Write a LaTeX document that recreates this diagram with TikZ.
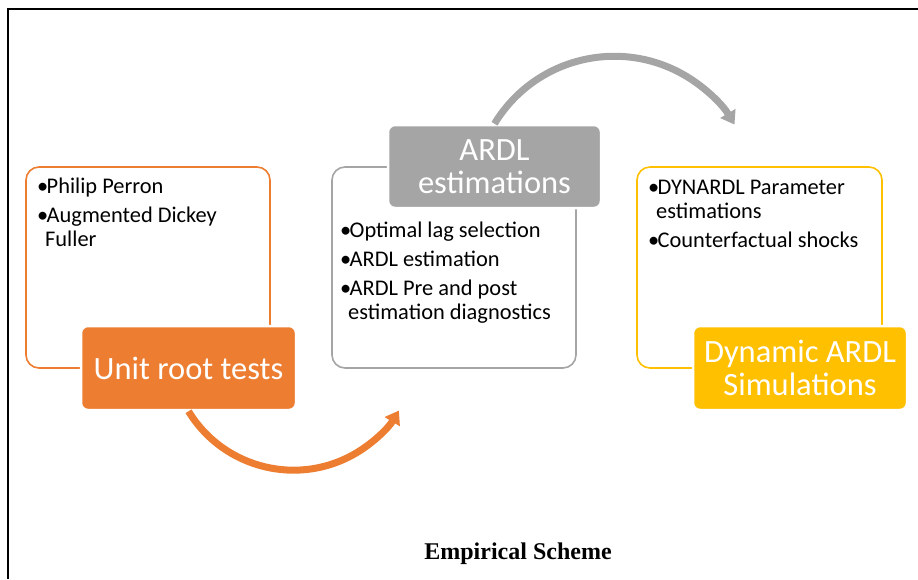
\documentclass[tikz,border=0pt]{standalone}
\usepackage{fontspec}
\setmainfont{Carlito}
\newfontfamily\captionfont{Liberation Serif}
\usetikzlibrary{arrows.meta}

\definecolor{accorange}{HTML}{ED7D31}
\definecolor{accgray}{HTML}{A5A5A5}
\definecolor{accgold}{HTML}{FFC000}

% one bullet line with hanging indent, 5pt between items
\newcommand{\bitem}[1]{\ifvmode\else\par\vskip5pt\fi
    \hangindent=8pt\hangafter=1\noindent\makebox[9.5pt][l]{\textbullet}#1}
% ragged box holding the bullet lines, first baseline on top
\newcommand{\itemlist}[1]{\begin{minipage}[t]{230pt}\raggedright #1\end{minipage}}

\begin{document}
\begin{tikzpicture}[x=1pt, y=-1pt,
        framebox/.style={draw=#1, line width=1.6pt, rounded corners=13pt, inner sep=0pt},
        stage/.style={fill=#1, draw=white, line width=2.5pt, rounded corners=7pt, text=white,
            align=center, inner sep=0pt, font=\fontsize{32.5}{33}\selectfont},
        bullets/.style={anchor=base west, inner sep=0pt, font=\fontsize{22.4}{24.2}\selectfont},
        bend arrow/.style={draw=#1, line width=7pt, -{Triangle[width=17pt, length=13pt]}}]
        \useasboundingbox (0,0) rectangle (918,579);
        \draw[line width=1.5pt] (918,9) -- (8,9) -- (8,579);

        % outlined boxes with the bullet lines
        \node[framebox=accorange, minimum width=244pt, minimum height=201pt] (urtbox) at (148,267.5) {};
        \node[framebox=accgray, minimum width=244pt, minimum height=201pt] (ardlbox) at (454,267.5) {};
        \node[framebox=accgold, minimum width=245pt, minimum height=201pt] (dynbox) at (759.5,267.5) {};

        \node[bullets] (urtlist) at (37,193) {\itemlist{\bitem{Philip Perron}\bitem{Augmented Dickey\break Fuller}}};
        \node[bullets] (ardllist) at (340,237) {\itemlist{\bitem{Optimal lag selection}\bitem{ARDL estimation}\bitem{ARDL Pre and post\break estimation diagnostics}}};
        \node[bullets] (dynlist) at (648,194) {\itemlist{\bitem{DYNARDL Parameter\break estimations}\bitem{Counterfactual shocks}}};

        % filled stage labels
        \node[stage=accorange, minimum width=215pt, minimum height=84pt] (unit) at (188.5,368) {Unit root tests};
        \node[stage=accgray, minimum width=213pt, minimum height=83pt] (ardl) at (494.5,166.5) {ARDL\\estimations};
        \node[stage=accgold, minimum width=214pt, minimum height=84pt] (dyn) at (800,368) {Dynamic ARDL\\Simulations};

        % curved arrows
        \draw[bend arrow=accorange] (unit.south) arc[start angle=148.6, end angle=31, radius=123];
        \draw[bend arrow=accgray] (ardl.north) arc[start angle=211.2, end angle=329.2, radius=140];

        \node[anchor=base, font=\captionfont\bfseries\fontsize{24}{28}\selectfont] (title) at (518,559) {Empirical Scheme};
\end{tikzpicture}
\end{document}
